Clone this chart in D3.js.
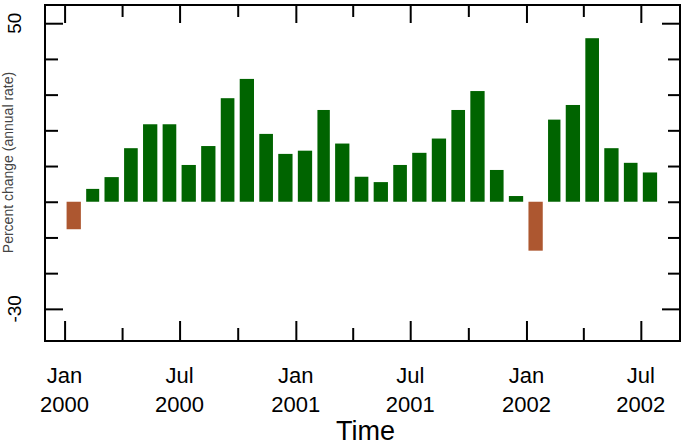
<!DOCTYPE html>
<head>
    <title>Time</title>
    <script src="https://cdn.jsdelivr.net/npm/d3@7"></script>
    <style>
        body { margin: 0; background: white; }
        svg { display: block; font-family: "Liberation Sans", Arial, sans-serif; }
    </style>
</head>
<body>
<div id="container"></div>

<script>

// Données (un barre par mois)
const months = ["2000-01", "2000-02", "2000-03", "2000-04", "2000-05", "2000-06",
                "2000-07", "2000-08", "2000-09", "2000-10", "2000-11", "2000-12",
                "2001-01", "2001-02", "2001-03", "2001-04", "2001-05", "2001-06",
                "2001-07", "2001-08", "2001-09", "2001-10", "2001-11", "2001-12",
                "2002-01", "2002-02", "2002-03", "2002-04", "2002-05", "2002-06",
                "2002-07"];
const values = [-7.7, 3.6, 6.9, 15.0, 21.7, 21.7, 10.3, 15.6, 29.0, 34.4, 19.0, 13.4,
                14.3, 25.7, 16.3, 7.0, 5.5, 10.3, 13.7, 17.7, 25.7, 31.0, 8.9, 1.6,
                -13.7, 23.0, 27.1, 45.8, 15.0, 10.9, 8.2];

// Graduations
const yTicks = [-30, -20, -10, 0, 10, 20, 30, 40, 50];
const yLabels = ["50", "-30"];
const xTicks = ["2000-01", "2000-04", "2000-07", "2000-10", "2001-01", "2001-04",
                "2001-07", "2001-10", "2002-01", "2002-04", "2002-07"];
const xLabels = [["Jan", "2000"], ["Jul", "2000"], ["Jan", "2001"],
                 ["Jul", "2001"], ["Jan", "2002"], ["Jul", "2002"]];
const xLabelDates = ["2000-01", "2000-07", "2001-01", "2001-07", "2002-01", "2002-07"];
const xTitle = "Time";
const yTitle = "Percent change (annual rate)";

const parse = d3.timeParse("%Y-%m");
const data = months.map((m, i) => ({ date: parse(m), value: values[i] }));

// Dimensions
const width = 681;
const height = 445;
const mLeft = 45, mRight = 680, mTop = 5, mBottom = 341;

const svg = d3.select("#container")
              .append("svg")
              .attr("width", width)
              .attr("height", height);

// Échelles
const x = d3.scaleTime()
            .domain([parse("1999-12"), parse("2002-09")])
            .range([mLeft, mRight]);
const y = d3.scaleLinear()
            .domain([-39, 55.1])
            .range([mBottom, mTop]);

// Barres
svg.append("g")
   .selectAll("rect")
   .data(data)
   .enter().append("rect")
   .attr("x", d => x(d.date) + 2)
   .attr("width", d => x(d3.timeMonth.offset(d.date, 1)) - x(d.date) - 5.3)
   .attr("y", d => y(Math.max(0, d.value)))
   .attr("height", d => Math.abs(y(d.value) - y(0)))
   .attr("fill", d => d.value < 0 ? "#ad5730" : "#006400");

// Axes (ticks vers l'intérieur, majeurs plus longs)
const isMajorX = d => d.getMonth() === 0 || d.getMonth() === 6;
const isMajorY = d => d === 50 || d === -30;
const xTickDates = xTicks.map(parse);

function styleAxis(g, isMajor, long) {
    g.select(".domain").remove();
    g.selectAll(".tick line")
     .attr("stroke", "black")
     .attr("stroke-width", 2)
     .each(function(d) {
        if (isMajor(d)) {
            const el = d3.select(this);
            if (el.attr("x2") !== null) el.attr("x2", long * Math.sign(+el.attr("x2")));
            if (el.attr("y2") !== null) el.attr("y2", long * Math.sign(+el.attr("y2")));
        }
     });
}

svg.append("g")
   .attr("transform", `translate(0,${mBottom})`)
   .call(d3.axisBottom(x).tickValues(xTickDates).tickSize(-13).tickFormat(""))
   .call(g => styleAxis(g, isMajorX, 20));
svg.append("g")
   .attr("transform", `translate(0,${mTop})`)
   .call(d3.axisTop(x).tickValues(xTickDates).tickSize(-12).tickFormat(""))
   .call(g => styleAxis(g, isMajorX, 18));
svg.append("g")
   .attr("transform", `translate(${mLeft},0)`)
   .call(d3.axisLeft(y).tickValues(yTicks).tickSize(-13).tickFormat(""))
   .call(g => styleAxis(g, isMajorY, 18));
svg.append("g")
   .attr("transform", `translate(${mRight},0)`)
   .call(d3.axisRight(y).tickValues(yTicks).tickSize(-12).tickFormat(""))
   .call(g => styleAxis(g, isMajorY, 18));

// Cadre
svg.append("rect")
   .attr("x", mLeft)
   .attr("y", mTop)
   .attr("width", mRight - mLeft)
   .attr("height", mBottom - mTop)
   .attr("fill", "none")
   .attr("stroke", "black")
   .attr("stroke-width", 2);

// Étiquettes de l'axe x (deux lignes)
const xl = svg.append("g")
              .selectAll("text")
              .data(xLabels)
              .enter().append("text")
              .attr("text-anchor", "middle")
              .attr("font-size", 22)
              .attr("fill", "black");
xl.append("tspan")
  .attr("x", (d, i) => x(parse(xLabelDates[i])))
  .attr("y", 383)
  .text(d => d[0]);
xl.append("tspan")
  .attr("x", (d, i) => x(parse(xLabelDates[i])))
  .attr("y", 412)
  .text(d => d[1]);

// Étiquettes de l'axe y (tournées)
svg.append("g")
   .selectAll("text")
   .data(yLabels)
   .enter().append("text")
   .attr("transform", d => `translate(21,${y(+d)}) rotate(-90)`)
   .attr("text-anchor", "middle")
   .attr("font-size", 19)
   .text(d => d);

// Titres
svg.append("text")
   .attr("x", (mLeft + mRight) / 2 + 3)
   .attr("y", 440)
   .attr("text-anchor", "middle")
   .attr("font-size", 27)
   .text(xTitle);

// Titre y : à peine lisible sur l'original, gardé entier et plus petit
svg.append("text")
   .attr("transform", `translate(13,${(35 + 290) / 2}) rotate(-90)`)
   .attr("text-anchor", "middle")
   .attr("font-size", 14)
   .attr("fill", "#444")
   .text(yTitle);

</script>

</body>
